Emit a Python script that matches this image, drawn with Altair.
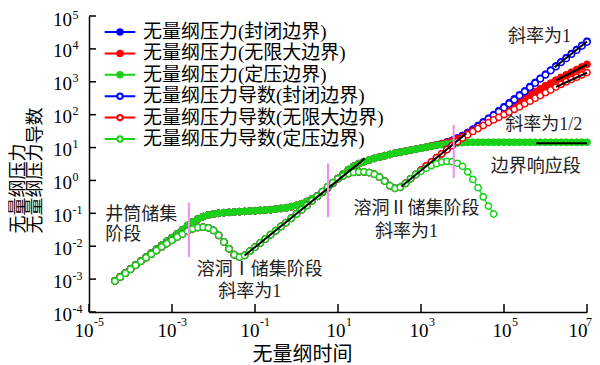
import altair as alt
import pandas as pd

# ---------------- data ----------------
# sampling times (log10 of dimensionless time)
LOG_T = [round(-4.375 + 0.125 * i, 3) for i in range(92)]  # -4.375 ... 7.0

# log10 dimensionless pressure, common part (t = 10^-4.375 ... 10^3)
P_COMMON = [-3.05, -2.93, -2.81, -2.69, -2.57, -2.45, -2.33, -2.21, -2.09, -1.97,
            -1.85, -1.74, -1.62, -1.50, -1.37, -1.26, -1.17, -1.10, -1.05, -1.02,
            -1.00, -0.98, -0.97, -0.96, -0.95, -0.94, -0.93, -0.92, -0.91, -0.90,
            -0.89, -0.87, -0.85, -0.83, -0.80, -0.76, -0.71, -0.64, -0.56, -0.47,
            -0.36, -0.23, -0.09, 0.06, 0.20, 0.33, 0.43, 0.51, 0.57, 0.62,
            0.67, 0.71, 0.75, 0.79, 0.83, 0.86, 0.89, 0.92, 0.95, 0.98]
# boundary parts (t = 10^3.125 ... 10^7)
P_TAIL_CLOSED = [1.01, 1.05, 1.08, 1.12, 1.17, 1.22, 1.29, 1.37, 1.46, 1.56,
                 1.67, 1.78, 1.89, 2.00, 2.12, 2.24, 2.36, 2.48, 2.60, 2.72,
                 2.855, 2.98, 3.105, 3.23, 3.355, 3.48, 3.605, 3.73, 3.855, 3.98,
                 4.105, 4.23]
P_TAIL_INFINITE = [1.01, 1.05, 1.08, 1.11, 1.15, 1.20, 1.26, 1.33, 1.43, 1.53,
                   1.63, 1.73, 1.83, 1.93, 2.03, 2.12, 2.22, 2.32, 2.41, 2.51,
                   2.60, 2.70, 2.79, 2.88, 2.96, 3.05, 3.13, 3.21, 3.29, 3.37,
                   3.45, 3.53]
P_TAIL_CONST = [1.01, 1.04, 1.07, 1.09, 1.11, 1.13, 1.14, 1.15, 1.155, 1.16,
                1.16, 1.16, 1.16, 1.16, 1.16, 1.16, 1.16, 1.16, 1.16, 1.16,
                1.16, 1.16, 1.16, 1.16, 1.16, 1.16, 1.16, 1.16, 1.16, 1.16,
                1.16, 1.16]

# log10 pressure derivative, common part (t = 10^-4.375 ... 10^2.875)
D_COMMON = [-3.06, -2.94, -2.82, -2.70, -2.58, -2.46, -2.35, -2.24, -2.13, -2.02,
            -1.92, -1.82, -1.72, -1.63, -1.54, -1.47, -1.43, -1.42, -1.44, -1.52,
            -1.67, -1.87, -2.08, -2.26, -2.33, -2.28, -2.15, -2.03, -1.90, -1.78,
            -1.65, -1.53, -1.40, -1.28, -1.15, -1.02, -0.89, -0.76, -0.62, -0.48,
            -0.34, -0.20, -0.07, 0.05, 0.14, 0.21, 0.25, 0.26, 0.26, 0.24,
            0.19, 0.10, -0.02, -0.16, -0.24, -0.21, -0.09, 0.05, 0.18]
# boundary parts (t = 10^3 ... )
D_TAIL_CLOSED = [0.31, 0.44, 0.56, 0.69, 0.81, 0.94, 1.06, 1.18, 1.30, 1.41,
                 1.52, 1.64, 1.76, 1.87, 1.98, 2.09, 2.21, 2.33, 2.45, 2.58,
                 2.70, 2.83, 2.96, 3.09, 3.21, 3.34, 3.46, 3.59, 3.71, 3.84,
                 3.96, 4.09, 4.21]
D_TAIL_INFINITE = [0.31, 0.44, 0.56, 0.69, 0.81, 0.94, 1.06, 1.18, 1.29, 1.39,
                   1.49, 1.58, 1.67, 1.76, 1.84, 1.92, 2.00, 2.08, 2.16, 2.24,
                   2.33, 2.41, 2.50, 2.58, 2.67, 2.75, 2.84, 2.92, 3.00, 3.07,
                   3.14, 3.21, 3.28]
D_TAIL_CONST = [0.28, 0.37, 0.45, 0.51, 0.56, 0.58, 0.57, 0.52, 0.43, 0.26,
                0.03, -0.22, -0.50, -0.78, -1.02]

SERIES = ["无量纲压力(封闭边界)", "无量纲压力(无限大边界)", "无量纲压力(定压边界)",
          "无量纲压力导数(封闭边界)", "无量纲压力导数(无限大边界)", "无量纲压力导数(定压边界)"]
STROKES = ["#0000ff", "#ff0000", "#19d119", "#0000ff", "#ff0000", "#19d119"]
FILLS = ["#0000ff", "#ff0000", "#19d119", "#ffffff", "#ffffff", "#ffffff"]

# straight guide lines (x1, y1, x2, y2)
BLACK_X1 = [0.056, 337, 1.66e6, 1.8e6, 1.8e6, 6.0e5]
BLACK_Y1 = [0.0052, 0.65, 2750, 1100, 700, 13.5]
BLACK_X2 = [44, 12400, 1e7, 1e7, 1e7, 1e7]
BLACK_Y2 = [4.6, 27, 16800, 3350, 1880, 13.5]

# stage separators (pink)
PINK_X = [2.55e-3, 5.75, 6150]
PINK_Y1 = [0.0047, 0.076, 1.17]
PINK_Y2 = [0.21, 3.3, 48.6]

# annotations
ANN_C_TEXT = ["斜率为1", "斜率为1/2", "边界响应段", "溶洞Ⅰ储集阶段", "斜率为1", "溶洞Ⅱ储集阶段", "斜率为1"]
ANN_C_X = [7.2e5, 9.06e5, 5.8e5, 0.1297, 0.0744, 774, 445]
ANN_C_Y = [2.22e4, 48.6, 2.57, 1.905e-3, 3.94e-4, 0.136, 0.0262]
ANN_L_TEXT = ["井筒储集", "阶段"]
ANN_L_X = [2.48e-5, 2.48e-5]
ANN_L_Y = [0.0863, 0.0220]

Y_EXP = [-4, -3, -2, -1, 0, 1, 2, 3, 4, 5]
X_EXP = [-5, -3, -1, 1, 3, 5, 7]

# ---------------- build tables ----------------
curves = [
    (SERIES[0], "p", P_COMMON + P_TAIL_CLOSED),
    (SERIES[1], "p", P_COMMON + P_TAIL_INFINITE),
    (SERIES[2], "p", P_COMMON + P_TAIL_CONST),
    (SERIES[3], "d", D_COMMON + D_TAIL_CLOSED),
    (SERIES[4], "d", D_COMMON + D_TAIL_INFINITE),
    (SERIES[5], "d", D_COMMON + D_TAIL_CONST),
]
rows = []
for name, kind, vals in curves:
    for lt, lv in zip(LOG_T, vals):
        rows.append({"s": name, "kind": kind, "t": 10 ** lt, "v": 10 ** lv})
df = pd.DataFrame(rows)
df_p = df[df.kind == "p"]
df_d = df[df.kind == "d"]

black = pd.DataFrame({"t": BLACK_X1, "v": BLACK_Y1, "t2": BLACK_X2, "v2": BLACK_Y2})
pink = pd.DataFrame({"t": PINK_X, "v": PINK_Y1, "v2": PINK_Y2})
ann_c = pd.DataFrame({"text": ANN_C_TEXT, "t": ANN_C_X, "v": ANN_C_Y})
ann_l = pd.DataFrame({"text": ANN_L_TEXT, "t": ANN_L_X, "v": ANN_L_Y})
yt = pd.DataFrame({"v": [10.0 ** e for e in Y_EXP], "e": [str(e) for e in Y_EXP]})
yt_low = yt[[int(e) < 5 for e in yt.e]]
yt_top = yt[[int(e) == 5 for e in yt.e]]
xt = pd.DataFrame({"t": [10.0 ** e for e in X_EXP], "e": [str(e) for e in X_EXP]})
xt_neg = xt[[int(e) < 0 for e in xt.e]]
xt_pos = xt[[0 < int(e) < 7 for e in xt.e]]
xt_end = xt[[int(e) == 7 for e in xt.e]]

# ---------------- chart ----------------
W, H = 498, 296
CJK = "Liberation Serif, Noto Sans CJK SC"
NUM = "Liberation Serif"

xs = alt.Scale(type="log", domain=[1e-5, 1e7])
ys = alt.Scale(type="log", domain=[1e-4, 1e5])
stroke_scale = alt.Scale(domain=SERIES, range=STROKES)
fill_scale = alt.Scale(domain=SERIES, range=FILLS)

# legend symbol: a 30 px line with a small circle (size 324 -> 1 unit = 9 px)
SYMBOL = ("M-1.7,0L-0.3,0M0.3,0L1.7,0M0.3,0A0.3,0.3,0,1,1,-0.3,0"
          "A0.3,0.3,0,1,1,0.3,0Z")
LEG = alt.Legend(title=None, orient="none", legendX=21, legendY=6,
                 symbolType=SYMBOL, symbolSize=324, symbolStrokeWidth=2,
                 labelFont=CJK, labelFontSize=19, labelColor="black",
                 labelOffset=13, rowPadding=1.4, padding=0, labelLimit=400)

AX_X = alt.Axis(
    title="无量纲时间", labels=False, ticks=False, grid=False,
    domainColor="black", domainWidth=1.5,
    titleFont=CJK, titleFontSize=20, titleFontWeight="normal", titleColor="black",
    titleX=213, titleY=42.5, titleAlign="center", titleBaseline="middle")
AX_Y = alt.Axis(
    title=["无量纲压力", "无量纲压力导数"], labels=False, ticks=False, grid=False,
    domainColor="black", domainWidth=1.5,
    titleFont=CJK, titleFontSize=18, titleFontWeight="normal", titleColor="black",
    titleAngle=270, titleAlign="left", titleBaseline="top", titleLineHeight=17,
    titleX=-80, titleY=217)


def X(field="t"):
    return alt.X(f"{field}:Q", scale=xs, axis=AX_X)


def Y(field="v"):
    return alt.Y(f"{field}:Q", scale=ys, axis=AX_Y)


def STROKE():
    return alt.Stroke("s:N", scale=stroke_scale, legend=LEG)


def FILL():
    return alt.Fill("s:N", scale=fill_scale, legend=LEG)


p_line = alt.Chart(df_p).mark_line(strokeWidth=4, opacity=1).encode(
    x=X(), y=Y(), stroke=STROKE())
p_pts = alt.Chart(df_p).mark_point(filled=True, size=48, strokeWidth=1, opacity=1).encode(
    x=X(), y=Y(), stroke=STROKE(), fill=FILL())
d_line = alt.Chart(df_d).mark_line(strokeWidth=1.2, opacity=1).encode(
    x=X(), y=Y(), stroke=STROKE())
d_pts = alt.Chart(df_d).mark_point(filled=True, size=40, strokeWidth=1.5, opacity=1).encode(
    x=X(), y=Y(), stroke=STROKE(), fill=FILL())

black_rules = alt.Chart(black).mark_rule(color="black", strokeWidth=2).encode(
    x=X(), x2="t2:Q", y=Y(), y2="v2:Q")
pink_rules = alt.Chart(pink).mark_rule(color="#f58af5", strokeWidth=2).encode(
    x=X(), y=Y(), y2="v2:Q")

ann_center = alt.Chart(ann_c).mark_text(font=CJK, fontSize=18, color="#222222",
                                        align="center", baseline="middle").encode(
    x=X(), y=Y(), text="text:N")
ann_left = alt.Chart(ann_l).mark_text(font=CJK, fontSize=18, color="#222222",
                                      align="left", baseline="middle").encode(
    x=X(), y=Y(), text="text:N")

# inward ticks
y_ticks = alt.Chart(yt).mark_rule(color="black", strokeWidth=1.5).encode(
    y=Y(), x=alt.value(0), x2=alt.value(7))
x_ticks = alt.Chart(xt).mark_rule(color="black", strokeWidth=1.5).encode(
    x=X(), y=alt.value(H), y2=alt.value(H - 8))


# tick labels 10^n
def y_labels(data, base_dy, sup_dy):
    base = alt.Chart(data).mark_text(font=NUM, fontSize=19, align="right", baseline="middle",
                                     dy=base_dy, color="black").encode(
        y=Y(), x=alt.value(-17), text=alt.value("10"))
    sup = alt.Chart(data).mark_text(font=NUM, fontSize=12, align="left", baseline="middle",
                                    dy=sup_dy, color="black").encode(
        y=Y(), x=alt.value(-16.5), text="e:N")
    return [base, sup]


def x_labels(data, base_dx, sup_dx):
    base = alt.Chart(data).mark_text(font=NUM, fontSize=19, align="center", baseline="middle",
                                     dx=base_dx, color="black").encode(
        x=X(), y=alt.value(H + 19), text=alt.value("10"))
    sup = alt.Chart(data).mark_text(font=NUM, fontSize=12, align="left", baseline="middle",
                                    dx=sup_dx, color="black").encode(
        x=X(), y=alt.value(H + 9.5), text="e:N")
    return [base, sup]


chart = alt.layer(
    p_line, p_pts, d_line, d_pts, black_rules, pink_rules,
    ann_center, ann_left, y_ticks, x_ticks,
    *y_labels(yt_low, 2.5, -3.5), *y_labels(yt_top, 4, -1.5),
    *x_labels(xt_neg, -5, 5), *x_labels(xt_pos, -2, 8), *x_labels(xt_end, -9, -1),
).properties(
    width=W, height=H,
    padding={"left": 81, "top": 8, "right": 5, "bottom": 53},
    autosize=alt.AutoSizeParams(type="none"),
).configure_view(stroke=None)

chart.save("out.html", embed_options={"renderer": "svg", "actions": False})
